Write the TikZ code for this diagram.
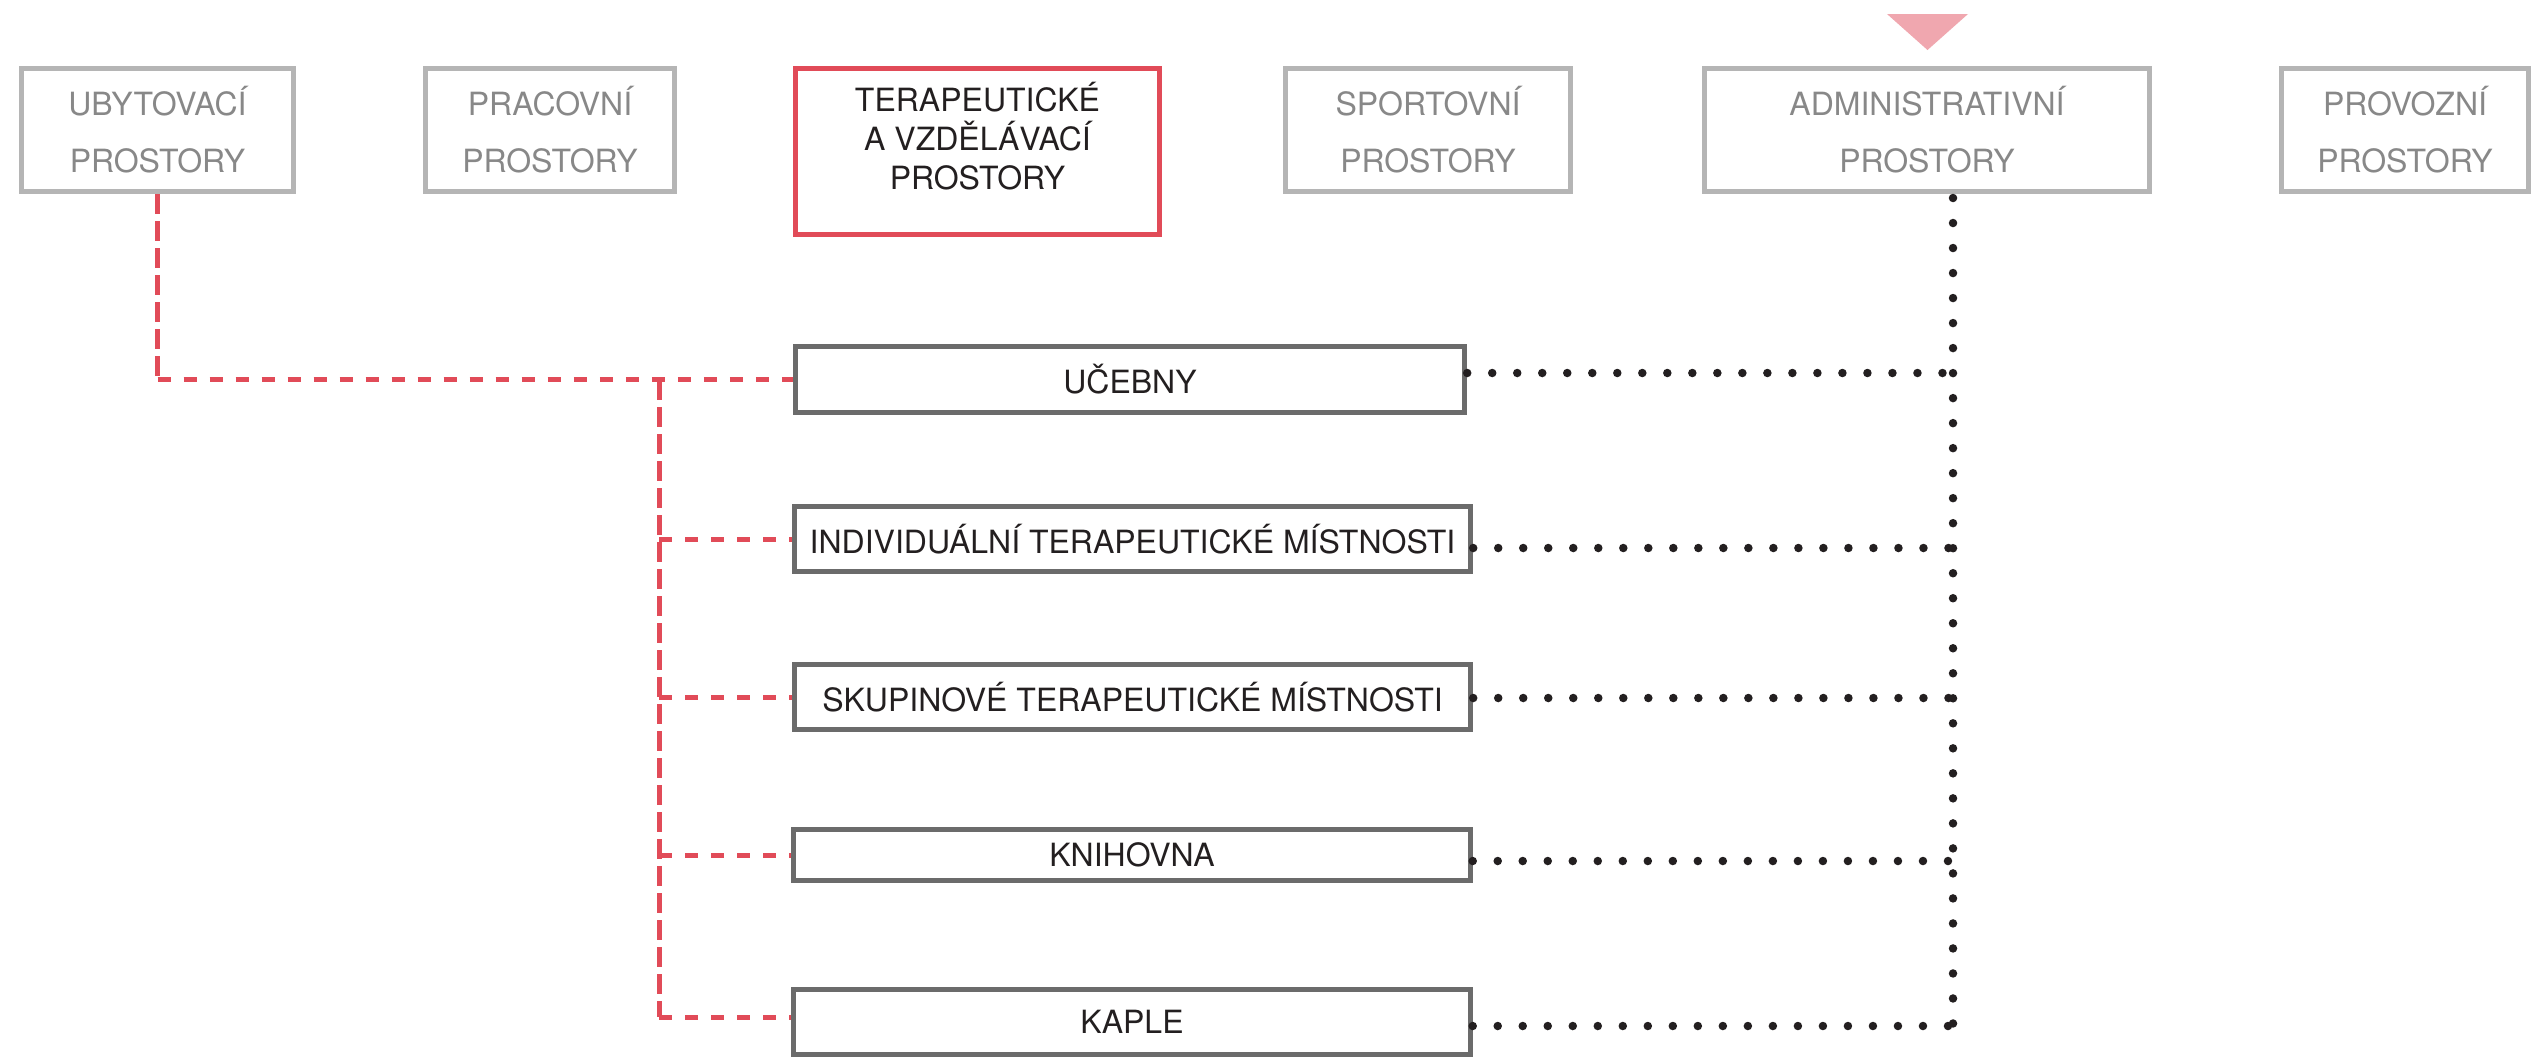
\documentclass[tikz,border=0pt]{standalone}
\usepackage{fontspec}
\setmainfont{TeX Gyre Heros}
\definecolor{boxgray}{HTML}{B5B5B5}
\definecolor{txtgray}{HTML}{888888}
\definecolor{boxdark}{HTML}{6B6B6B}
\definecolor{txtdark}{HTML}{231F20}
\definecolor{redc}{HTML}{E14B58}
\definecolor{tripink}{HTML}{F0A7AF}
\begin{document}
\begin{tikzpicture}[x=0.01cm,y=-0.01cm,
  topbox/.style={draw=boxgray, line width=0.05cm, text=txtgray, align=center,
    minimum height=1.23cm, inner sep=0pt, font=\fontsize{9.1}{16.2}\selectfont},
  redbox/.style={draw=redc, line width=0.05cm, minimum width=3.64cm, minimum height=1.66cm, inner sep=0pt},
  terlabel/.style={text=txtdark, align=center, inner sep=0pt, font=\fontsize{9.1}{11.1}\selectfont},
  lowbox/.style={draw=boxdark, line width=0.05cm, text=txtdark, minimum width=6.76cm,
    minimum height=0.65cm, inner sep=0pt, font=\fontsize{9.1}{11}\selectfont},
  reddh/.style={draw=redc, line width=0.05cm, dash pattern=on 0.13cm off 0.13cm},
  reddv/.style={draw=redc, line width=0.05cm, dash pattern=on 0.2cm off 0.07cm},
  dotline/.style={draw=txtdark, line width=0.085cm, line cap=round, dash pattern=on 0pt off 0.25cm}
]
\useasboundingbox[fill=white] (0,0) rectangle (2533,1057);

% top row
\node[topbox, minimum width=2.72cm] (uby) at (157.5,130) {UBYTOVACÍ\\PROSTORY};
\node[topbox, minimum width=2.49cm] (pra) at (550,130) {PRACOVNÍ\\PROSTORY};
\node[redbox] (ter) at (977.5,151.5) {};
\node[terlabel] (terl) at (977.5,136) {TERAPEUTICKÉ\\A VZDĚLÁVACÍ\\PROSTORY};
\node[topbox, minimum width=2.85cm] (spo) at (1428,130) {SPORTOVNÍ\\PROSTORY};
\node[topbox, minimum width=4.45cm] (adm) at (1927,130) {ADMINISTRATIVNÍ\\PROSTORY};
\node[topbox, minimum width=2.47cm] (pro) at (2405,130) {PROVOZNÍ\\PROSTORY};

% marker triangle
\fill[tripink] (1887,14) -- (1968,14) -- (1927.5,50) -- cycle;

% lower boxes
\node[lowbox, minimum width=6.69cm, minimum height=0.66cm] (uc) at (1130,379.5) {UČEBNY};
\node[lowbox] (ind) at (1132.5,539) {INDIVIDUÁLNÍ TERAPEUTICKÉ MÍSTNOSTI};
\node[lowbox] (sku) at (1132.5,697) {SKUPINOVÉ TERAPEUTICKÉ MÍSTNOSTI};
\node[lowbox, minimum height=0.51cm] (kni) at (1132,855) {KNIHOVNA};
\node[lowbox] (kap) at (1132,1022) {KAPLE};

% red dashed connectors
\coordinate (corner) at (uby.south |- uc.west);
\draw[reddv] (uby.south) -- (corner);
\draw[reddh] (corner) -- (uc.west);
\coordinate (tr) at (659,380);
\coordinate (kapW) at ([yshift=0.05cm]kap.west);
\draw[reddv] (tr) -- (tr |- kapW);
\draw[reddh] (tr |- ind.west) -- (ind.west);
\draw[reddh] (tr |- sku.west) -- (sku.west);
\draw[reddh] (tr |- kni.west) -- (kni.west);
\draw[reddh] (tr |- kapW) -- (kapW);

% black dotted connectors
\coordinate (dtop) at (1953,198);
\coordinate (dbot) at (1953,1026);
\draw[dotline] (dtop) -- (dbot);
\coordinate (ucE) at ([yshift=0.065cm]uc.east);
\coordinate (indE) at ([yshift=-0.09cm]ind.east);
\coordinate (skuE) at ([yshift=-0.01cm]sku.east);
\coordinate (kniE) at ([yshift=-0.06cm]kni.east);
\coordinate (kapE) at ([yshift=-0.04cm]kap.east);
\draw[dotline] (ucE) -- (ucE -| dbot);
\draw[dotline] (indE) -- (indE -| dbot);
\draw[dotline] (skuE) -- (skuE -| dbot);
\draw[dotline] (kniE) -- (kniE -| dbot);
\draw[dotline] (kapE) -- (dbot);
\end{tikzpicture}
\end{document}
